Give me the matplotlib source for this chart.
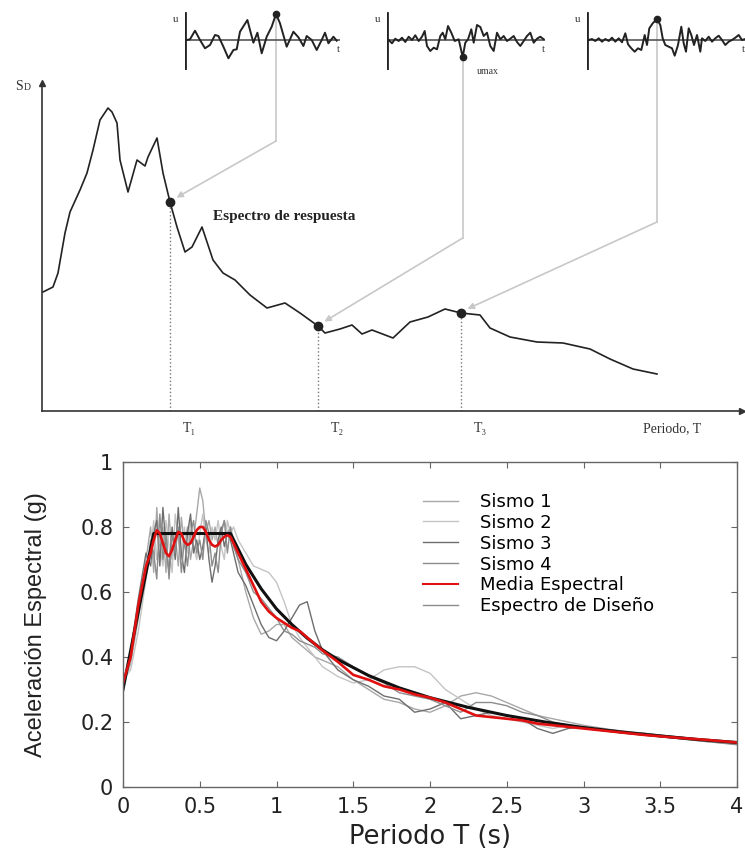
import numpy as np
import matplotlib.pyplot as plt
from matplotlib.lines import Line2D

# ---------------- top schematic (arbitrary units) ----------------
sd_period = [0.1, 1.1, 1.6, 2.3, 2.8, 3.8, 4.5, 5.1, 5.8, 6.6,
             7.0, 7.5, 7.8, 8.6, 9.5, 10.3, 10.6, 11.5, 12.1, 12.8,
             13.5, 14.3, 15.0, 16.0, 17.1, 18.1, 19.3, 20.8, 22.5, 24.3,
             25.8, 27.6, 28.3, 29.8, 31.0, 32.0, 33.0, 35.1, 36.8, 38.6,
             40.3, 41.9, 43.8, 44.8, 46.8, 49.5, 52.1, 54.8, 56.8, 59.1, 61.5]
sd_value = [11.9, 12.4, 13.8, 17.8, 19.9, 22.1, 23.8, 26.1, 29.1, 30.3,
            29.9, 28.8, 25.1, 21.9, 25.1, 24.5, 25.4, 27.3, 23.8, 20.9,
            18.4, 15.9, 16.4, 18.4, 15.1, 13.8, 13.1, 11.6, 10.3, 10.8,
            9.8, 8.5, 7.8, 8.2, 8.6, 7.7, 8.1, 7.3, 8.9, 9.4,
            10.2, 9.8, 9.6, 8.3, 7.4, 6.9, 6.8, 6.2, 5.2, 4.2, 3.7]
marked = [19, 31, 41]          # T1, T2, T3
t_labels = ['T₁', 'T₂', 'T₃']

# time histories shown above the spectrum
t1 = [1.7, 5, 10, 15, 20, 25, 30, 33.4, 38.4, 43.4, 48.4, 51.7, 55, 62.4, 65, 68.4, 72.4,
      76.7, 81.7, 86.7, 91, 95, 101.7, 108.4, 113.4, 118.4, 121.7, 126.7, 131.7, 136.7,
      140, 143.4, 148.4, 151.7]
u1 = [0, 0.7, 9.3, 0, -8.3, -5, 5, 4, -6.7, -18.3, -10, -9.3, 8.3, 20, 10, -2.7, 7.3,
      -13.3, 3.3, 13.3, 26, 16.7, -6.7, 8.3, 2.7, -6, 4, 0, -10, 0, 7.3, -3.3, 3.3, -0.7]
t2 = [1.7, 5, 8.3, 11.7, 15, 18.3, 21.7, 25, 28.3, 31.7, 35, 37.7, 40, 43.3, 46.7, 50,
      53.3, 55.7, 58.3, 61, 64.3, 67.7, 71.7, 75.7, 78.3, 81, 84.3, 86.7, 90, 93.3, 96.7,
      100, 103.3, 106.7, 110, 113.3, 116.7, 120, 123.3, 126.7, 130, 133.3, 136.7, 140,
      143.3, 146.7, 150, 153.3, 156.7]
u2 = [0, -3.3, 1.3, -1, 2.3, -2, 3.3, 0, 4.7, -1, 3.3, 9, -6, -11, -7.7, -9.3, 4, 7.3,
      0.7, 14, 7.3, -1, 0.7, -17, -2.7, 0.7, 10.7, -2.7, 15, 13, 4, 7.3, -6, -11, 7.3,
      0.7, 4, -1, 1.3, 4, -2, -6, -1, 4, 7.3, -2.7, 1.3, 3.3, 0.7]
t3 = [1.7, 5, 8.3, 11.7, 15, 18.3, 21.7, 25, 28.3, 31.7, 35, 38.3, 41, 44.3, 47.7, 51,
      54.3, 57.7, 60, 62.3, 65.7, 70, 73.3, 75.7, 78.3, 81.7, 85, 87.7, 91, 94.3, 96.7,
      99, 101.7, 104.3, 107, 110, 113.3, 115, 118.3, 121.7, 125, 128.3, 131.7, 135,
      138.3, 141.7, 145, 148.3, 151.7, 155, 158.3]
u3 = [0, 1, -1, 1.7, -1.7, 1, -1, 2.3, -1.7, 1.7, -2.3, 6.7, -4.3, -8.3, -11.7, -8.3,
      -10, 5, -5, 11.7, 16.7, 21, 15, 1.7, -5, -6.7, -8.3, -15.7, -5, 13.3, -3.3, -11.7,
      11.7, 5, -5, 5, -11.7, 1.7, -1, 3.3, -1.7, 1.7, 4.3, 0, -5, -1.7, 0, 2.3, 5, 0, 1]

# ---------------- bottom chart ----------------
periods = [0, 0.05, 0.1, 0.15, 0.18, 0.2, 0.22, 0.24, 0.26, 0.28,
           0.3, 0.32, 0.34, 0.36, 0.38, 0.4, 0.42, 0.44, 0.46, 0.48,
           0.5, 0.52, 0.54, 0.56, 0.58, 0.6, 0.62, 0.64, 0.66, 0.68,
           0.7, 0.72, 0.75, 0.8, 0.85, 0.9, 0.95, 1.0, 1.05, 1.1,
           1.15, 1.2, 1.25, 1.3, 1.4, 1.5, 1.6, 1.7, 1.8, 1.9,
           2.0, 2.1, 2.2, 2.3, 2.4, 2.5, 2.6, 2.7, 2.8, 2.9,
           3.0, 3.2, 3.4, 3.6, 3.8, 4.0]
sismo1 = [0.31, 0.38, 0.52, 0.70, 0.80, 0.66, 0.86, 0.72, 0.80, 0.66,
          0.84, 0.70, 0.78, 0.68, 0.83, 0.74, 0.80, 0.70, 0.76, 0.84,
          0.92, 0.88, 0.78, 0.82, 0.76, 0.80, 0.74, 0.79, 0.82, 0.78,
          0.80, 0.76, 0.70, 0.60, 0.52, 0.47, 0.48, 0.50, 0.50, 0.46,
          0.44, 0.42, 0.40, 0.39, 0.37, 0.33, 0.30, 0.27, 0.26, 0.24,
          0.23, 0.25, 0.28, 0.29, 0.28, 0.26, 0.24, 0.22, 0.21, 0.20,
          0.19, 0.175, 0.16, 0.15, 0.14, 0.132]
sismo2 = [0.33, 0.36, 0.48, 0.64, 0.72, 0.82, 0.70, 0.74, 0.68, 0.82,
          0.74, 0.66, 0.84, 0.76, 0.70, 0.80, 0.72, 0.82, 0.74, 0.70,
          0.78, 0.84, 0.76, 0.72, 0.80, 0.76, 0.82, 0.74, 0.70, 0.82,
          0.78, 0.80, 0.76, 0.72, 0.68, 0.67, 0.66, 0.63, 0.57, 0.50,
          0.46, 0.43, 0.40, 0.37, 0.34, 0.32, 0.33, 0.36, 0.37, 0.37,
          0.35, 0.30, 0.27, 0.24, 0.22, 0.21, 0.20, 0.19, 0.18, 0.19,
          0.185, 0.17, 0.16, 0.15, 0.14, 0.135]
sismo3 = [0.30, 0.42, 0.58, 0.72, 0.68, 0.78, 0.82, 0.68, 0.86, 0.74,
          0.66, 0.80, 0.70, 0.86, 0.72, 0.66, 0.78, 0.84, 0.72, 0.76,
          0.70, 0.74, 0.80, 0.70, 0.63, 0.68, 0.76, 0.80, 0.74, 0.78,
          0.76, 0.72, 0.66, 0.62, 0.56, 0.50, 0.46, 0.45, 0.48, 0.52,
          0.56, 0.57, 0.48, 0.42, 0.36, 0.33, 0.31, 0.28, 0.27, 0.23,
          0.24, 0.26, 0.21, 0.22, 0.23, 0.22, 0.21, 0.18, 0.165, 0.18,
          0.185, 0.17, 0.165, 0.155, 0.145, 0.138]
sismo4 = [0.32, 0.40, 0.55, 0.66, 0.76, 0.72, 0.64, 0.84, 0.70, 0.78,
          0.64, 0.78, 0.72, 0.80, 0.66, 0.76, 0.68, 0.78, 0.82, 0.72,
          0.76, 0.70, 0.82, 0.78, 0.68, 0.72, 0.66, 0.78, 0.82, 0.72,
          0.80, 0.74, 0.70, 0.66, 0.60, 0.58, 0.55, 0.52, 0.48, 0.47,
          0.45, 0.44, 0.43, 0.41, 0.40, 0.37, 0.34, 0.32, 0.29, 0.28,
          0.27, 0.25, 0.23, 0.26, 0.26, 0.25, 0.23, 0.22, 0.20, 0.19,
          0.18, 0.175, 0.165, 0.15, 0.14, 0.13]
media = [0.32, 0.40, 0.56, 0.68, 0.72, 0.76, 0.79, 0.78, 0.75, 0.72,
         0.71, 0.73, 0.76, 0.785, 0.78, 0.755, 0.745, 0.75, 0.77, 0.79,
         0.80, 0.80, 0.785, 0.76, 0.745, 0.74, 0.745, 0.76, 0.77, 0.775,
         0.77, 0.75, 0.72, 0.67, 0.62, 0.57, 0.54, 0.52, 0.505, 0.49,
         0.48, 0.46, 0.44, 0.42, 0.385, 0.345, 0.33, 0.31, 0.30, 0.285,
         0.275, 0.26, 0.24, 0.22, 0.215, 0.21, 0.205, 0.195, 0.19, 0.185,
         0.18, 0.17, 0.16, 0.152, 0.145, 0.137]
design_T = [0, 0.2, 0.7, 0.8, 0.9, 1.0, 1.1, 1.2, 1.3, 1.4, 1.6, 1.8, 2.0, 2.25, 2.5,
            2.75, 3.0, 3.25, 3.5, 3.75, 4.0]
design_A = [0.30, 0.78, 0.78, 0.685, 0.61, 0.548, 0.50, 0.458, 0.422, 0.392, 0.343,
            0.305, 0.275, 0.245, 0.22, 0.20, 0.183, 0.169, 0.157, 0.146, 0.137]

sismo_labels = ['Sismo 1', 'Sismo 2', 'Sismo 3', 'Sismo 4']
sismo_colors = ['#a8a8a8', '#c4c4c4', '#6e6e6e', '#8c8c8c']

serif = ['Liberation Serif', 'DejaVu Serif']
sans = ['Liberation Sans', 'DejaVu Sans']
wide = ['DejaVu Sans']

W, H = 745, 851
fig = plt.figure(figsize=(W / 100, H / 100), dpi=100)


def px_axes(x0, y0, x1, y1):
    # axes from pixel box (top-left origin)
    return fig.add_axes([x0 / W, 1 - y1 / H, (x1 - x0) / W, (y1 - y0) / H])


# --- spectrum schematic
ax = px_axes(42, 83, 742, 411)
ax.set_xlim(0, 70)
ax.set_ylim(0, 32.8)
for s in ['top', 'right']:
    ax.spines[s].set_visible(False)
for s in ['left', 'bottom']:
    ax.spines[s].set_color('#333333')
    ax.spines[s].set_linewidth(1.2)
ax.set_xticks([])
ax.set_yticks([])
ax.plot(1, 0, '>', color='#333333', ms=5, transform=ax.transAxes, clip_on=False)
ax.plot(0, 1, '^', color='#333333', ms=5, transform=ax.transAxes, clip_on=False)
ax.plot(sd_period, sd_value, color='#222222', lw=1.2)

for i, lab in zip(marked, t_labels):
    x, y = sd_period[i], sd_value[i]
    ax.vlines(x, 0, y, colors='#777777', linestyles=':', lw=1)
    ax.plot(x, y, 'o', color='#222222', ms=6, zorder=5)
    ax.text(x + 1.9, -1.8, lab, family=serif, fontsize=10, color='#333333',
            ha='center', va='center')

ax.text(60.1, -1.8, 'Periodo, T', family=serif, fontsize=10, color='#333333',
        ha='left', va='center')
ax.text(-2.7, 32.4, 'S', family=serif, fontsize=10, color='#333333', ha='left', va='center')
ax.text(-1.8, 32.3, 'D', family=serif, fontsize=7, color='#333333', ha='left', va='center')
ax.text(17.1, 19.4, 'Espectro de respuesta', family=serif, fontsize=11,
        fontweight='bold', color='#222222', ha='left', va='center')

# --- small time histories
insets = []
for (x0, x1), tt, uu in [((185, 340), t1, u1), ((387, 545), t2, u2), ((587, 745), t3, u3)]:
    ins = px_axes(x0, 10, x1, 70)
    ins.set_xlim(0, x1 - x0)
    ins.set_ylim(-30, 30)
    ins.axis('off')
    ins.plot([0, x1 - x0], [0, 0], color='#555555', lw=1.2)
    ins.plot([0, 0], [-29, 27], color='#222222', lw=2)
    ins.plot(tt, uu, color='#222222', lw=1.4)
    k = int(np.argmax(np.abs(uu)))
    ins.plot(tt[k], uu[k], 'o', color='#222222', ms=4.5, zorder=5)
    ins.text(-9, 21, 'u', family=serif, fontsize=8, color='#333333', ha='center', va='center')
    ins.text(x1 - x0 - 2, -10, 't', family=serif, fontsize=8, color='#333333',
             ha='center', va='center', clip_on=False)
    insets.append((ins, tt[k], uu[k]))

insets[1][0].text(90, -31, 'umax', family=serif, fontsize=7, color='#333333',
                  ha='left', va='center')

# --- gray connectors from peaks to the spectrum points
elbows = [27.0, 17.3, 18.9]
for (ins, tp, up), i, ey in zip(insets, marked, elbows):
    disp = ins.transData.transform((tp, up))
    xs, ys = ax.transData.inverted().transform(disp)
    ax.plot([xs, xs], [ys, ey], color='#c8c8c8', lw=1.2, clip_on=False)
    ax.annotate('', xy=(sd_period[i] + 0.4, sd_value[i] + 0.3), xytext=(xs, ey),
                arrowprops=dict(arrowstyle='-|>', color='#c8c8c8', lw=1.2,
                                mutation_scale=9, shrinkA=0, shrinkB=2),
                annotation_clip=False)

# --- acceleration spectra
bx = px_axes(123, 462, 737, 787)
for vals, lab, col in zip([sismo1, sismo2, sismo3, sismo4], sismo_labels, sismo_colors):
    bx.plot(periods, vals, color=col, lw=1.0)
bx.plot(design_T, design_A, color='#111111', lw=2.2)
bx.plot(periods, media, color='#e01010', lw=1.9)

bx.set_xlim(0, 4)
bx.set_ylim(0, 1)
xt = [0, 0.5, 1, 1.5, 2, 2.5, 3, 3.5, 4]
yt = [0, 0.2, 0.4, 0.6, 0.8, 1]
bx.set_xticks(xt)
bx.set_xticklabels(['0', '0.5', '1', '1.5', '2', '2.5', '3', '3.5', '4'],
                   family=wide, fontsize=15)
bx.set_yticks(yt)
bx.set_yticklabels(['0', '0.2', '0.4', '0.6', '0.8', '1'], family=wide, fontsize=15)
bx.tick_params(direction='in', top=True, right=True, length=4, color='#666666',
               labelcolor='#222222', pad=7)
for s in bx.spines.values():
    s.set_color('#666666')
    s.set_linewidth(1.0)
bx.set_xlabel('Periodo T (s)', family=wide, fontsize=18.5, color='#222222', labelpad=5)
bx.set_ylabel('Aceleración Espectral (g)', family=sans, fontsize=17, color='#222222',
              labelpad=24)

handles = [Line2D([], [], color=c, lw=1.0) for c in sismo_colors]
handles.append(Line2D([], [], color='#e01010', lw=1.5))
handles.append(Line2D([], [], color='#8c8c8c', lw=1.0))
labels = sismo_labels + ['Media Espectral', 'Espectro de Diseño']
bx.legend(handles, labels, loc='upper left', bbox_to_anchor=(0.489, 0.905),
          frameon=False, prop={'family': wide, 'size': 13}, handlelength=1.95,
          handletextpad=1.2, labelspacing=0.16, borderpad=0, borderaxespad=0)

fig.savefig('out.png', dpi=100)
